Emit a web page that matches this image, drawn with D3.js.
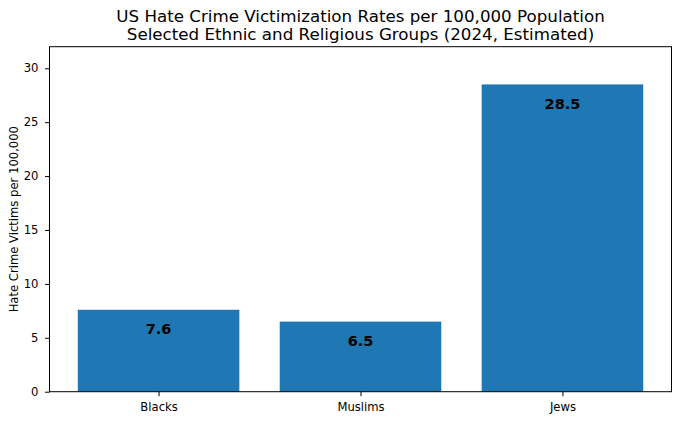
<!DOCTYPE html>
<html lang="en">
<head>
    <meta charset="UTF-8">
    <script src="https://cdn.jsdelivr.net/npm/d3@7"></script>
    <style>
        body { margin: 0; background: #fff; }
        text { font-family: "DejaVu Sans", sans-serif; }
    </style>
</head>
<body>
<script>
    const groups = ["Blacks", "Muslims", "Jews"]
    const rates = [7.6, 6.5, 28.5]
    const yTicks = [0, 5, 10, 15, 20, 25, 30]

    const width = 680, height = 421
    const mLeft = 49.5, mRight = 671.5, mTop = 46.7, mBottom = 391.7

    const svg = d3.select("body").append("svg")
        .attr("width", width)
        .attr("height", height)

    // matplotlib-like categorical axis: bars width 0.8, margins 5%
    const x = d3.scaleLinear().domain([-0.54, 2.54]).range([mLeft, mRight])
    const y = d3.scaleLinear().domain([0, 32]).range([mBottom, mTop])

    svg.append("g").selectAll("rect")
        .data(rates)
        .enter()
        .append("rect")
        .attr("x", (d, i) => x(i - 0.4))
        .attr("width", (d, i) => x(i + 0.4) - x(i - 0.4))
        .attr("y", d => y(d))
        .attr("height", d => y(0) - y(d))
        .attr("fill", "#1f77b4")

    // value labels sit just under the bar top
    svg.append("g").selectAll("text")
        .data(rates)
        .enter()
        .append("text")
        .attr("x", (d, i) => x(i))
        .attr("y", d => y(d - 1.8))
        .attr("dy", "0.36em")
        .attr("text-anchor", "middle")
        .attr("font-size", 14.5)
        .attr("font-weight", "bold")
        .text(d => d.toFixed(1))

    const yAxis = svg.append("g")
        .attr("transform", `translate(${mLeft},0)`)
        .call(d3.axisLeft(y).tickValues(yTicks).tickSize(4.5).tickPadding(6.5))
    const xAxis = svg.append("g")
        .attr("transform", `translate(0,${mBottom})`)
        .call(d3.axisBottom(x).tickValues(d3.range(groups.length))
            .tickFormat(i => groups[i]).tickSize(4.5).tickPadding(6.5))
    ;[xAxis, yAxis].forEach(g => {
        g.select(".domain").remove()
        g.selectAll("text").attr("font-size", 11.6).attr("fill", "#000")
            .style("font-family", "DejaVu Sans")
        g.selectAll("line").attr("stroke", "#000").attr("stroke-width", 1)
    })

    svg.append("rect")
        .attr("x", mLeft).attr("y", mTop)
        .attr("width", mRight - mLeft).attr("height", mBottom - mTop)
        .attr("fill", "none").attr("stroke", "#000").attr("stroke-width", 1)

    svg.append("text")
        .attr("transform", `translate(14,${(mTop + mBottom) / 2}) rotate(-90)`)
        .attr("text-anchor", "middle")
        .attr("dy", "0.36em")
        .attr("font-size", 11.6)
        .text("Hate Crime Victims per 100,000")

    const title = ["US Hate Crime Victimization Rates per 100,000 Population",
        "Selected Ethnic and Religious Groups (2024, Estimated)"]
    svg.append("g").selectAll("text")
        .data(title)
        .enter()
        .append("text")
        .attr("x", (mLeft + mRight) / 2)
        .attr("y", (d, i) => 21.7 + i * 18.5)
        .attr("text-anchor", "middle")
        .attr("font-size", 16.7)
        .text(d => d)
</script>
</body>
</html>
